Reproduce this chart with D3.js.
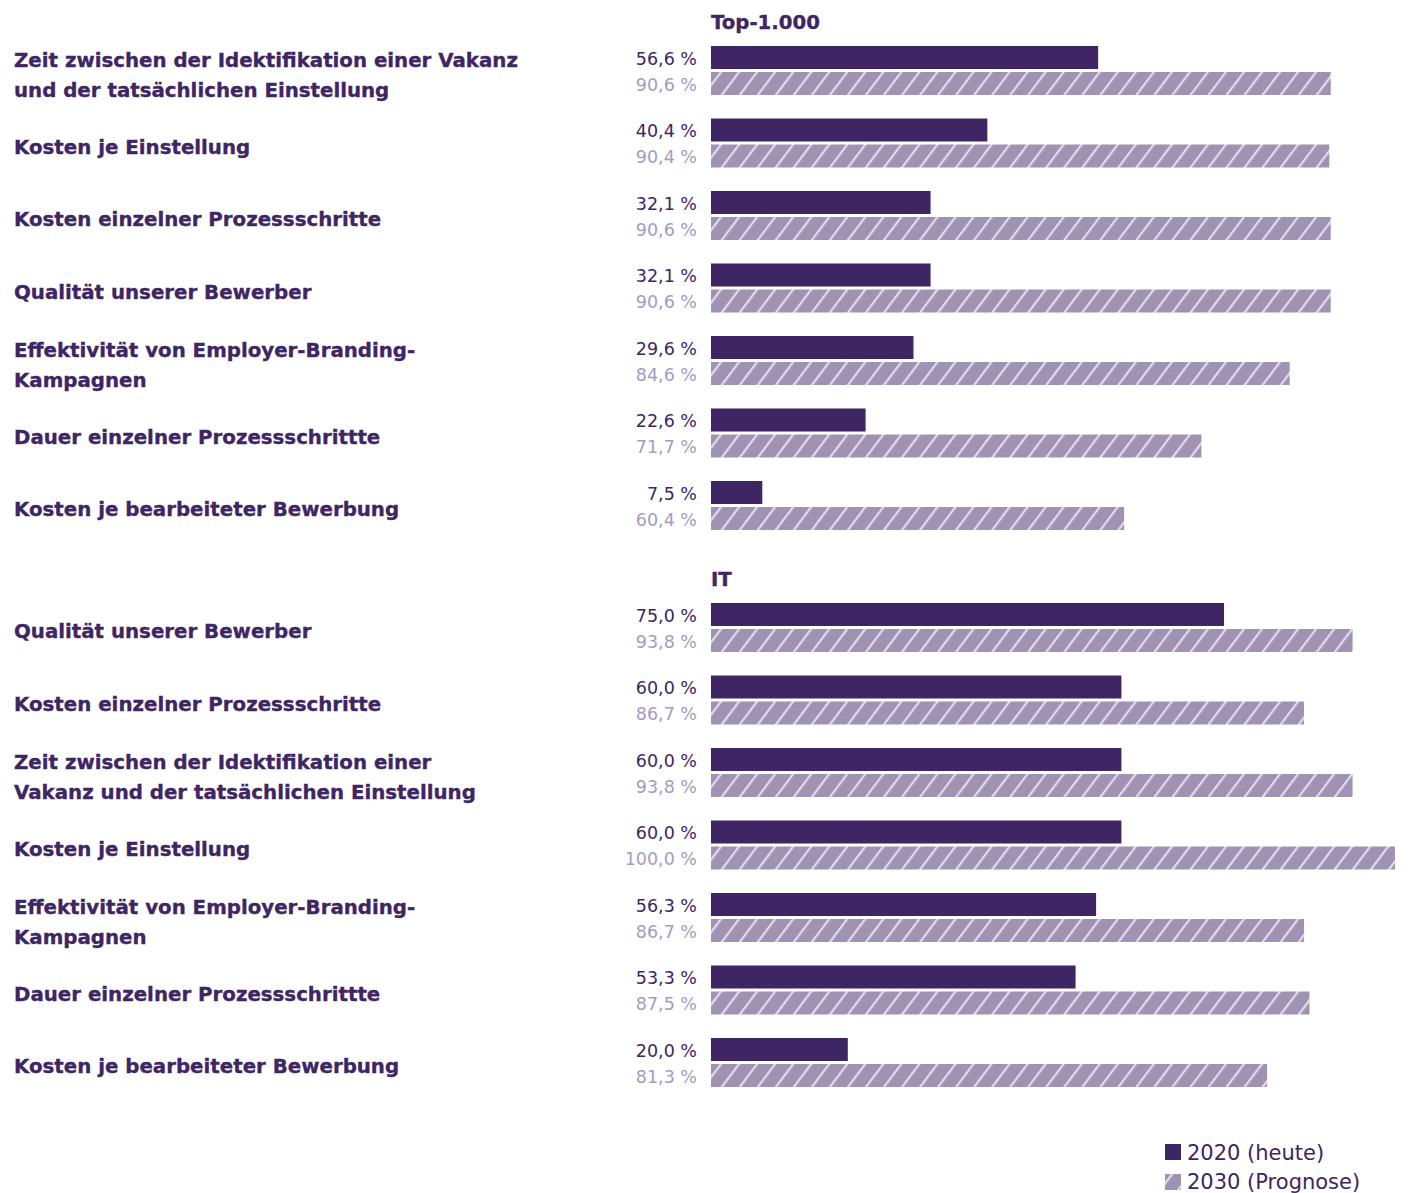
<!DOCTYPE html>
<html>
<head>
<meta charset="utf-8">
<script src="https://cdn.jsdelivr.net/npm/d3@7"></script>
<style>
  body { margin: 0; background: #fff; }
  svg { display: block; }
</style>
</head>
<body>
<script>
// two panels, same categories in different order
var topCategories = [
  "Zeit zwischen der Idektifikation einer Vakanz\nund der tatsächlichen Einstellung",
  "Kosten je Einstellung",
  "Kosten einzelner Prozessschritte",
  "Qualität unserer Bewerber",
  "Effektivität von Employer-Branding-\nKampagnen",
  "Dauer einzelner Prozessschrittte",
  "Kosten je bearbeiteter Bewerbung"
]
var top2020 = [56.6, 40.4, 32.1, 32.1, 29.6, 22.6, 7.5]
var top2030 = [90.6, 90.4, 90.6, 90.6, 84.6, 71.7, 60.4]

var itCategories = [
  "Qualität unserer Bewerber",
  "Kosten einzelner Prozessschritte",
  "Zeit zwischen der Idektifikation einer\nVakanz und der tatsächlichen Einstellung",
  "Kosten je Einstellung",
  "Effektivität von Employer-Branding-\nKampagnen",
  "Dauer einzelner Prozessschrittte",
  "Kosten je bearbeiteter Bewerbung"
]
var it2020 = [75.0, 60.0, 60.0, 60.0, 56.3, 53.3, 20.0]
var it2030 = [93.8, 86.7, 93.8, 100.0, 86.7, 87.5, 81.3]

var seriesNames = ["2020 (heute)", "2030 (Prognose)"]

var dark = "#3e2563"
var lightBar = "#9f92b3"
var lightText = "#a59bbf"
var font = "'DejaVu Sans', sans-serif"

var svg = d3.select("body")
  .append("svg")
  .attr("width", 1411)
  .attr("height", 1193)

// hatch for the 2030 bars
var defs = svg.append("defs")
var pat = defs.append("pattern")
  .attr("id", "hatch")
  .attr("patternUnits", "userSpaceOnUse")
  .attr("width", 14.4)
  .attr("height", 14.4)
  .attr("patternTransform", "rotate(37)")
pat.append("rect")
  .attr("width", 14.4).attr("height", 14.4)
  .attr("fill", lightBar)
pat.append("rect")
  .attr("x", 0).attr("width", 2.2).attr("height", 14.4)
  .attr("fill", "#e2dcea")

var xScale = d3.scaleLinear()
  .domain([0, 100])
  .range([711, 1395])

var fmt = function(v) { return d3.format(".1f")(v).replace(".", ",") + " %" }

var drawPanel = function(title, cats, v2020, v2030, y0)
{
  var yScale = d3.scaleBand()
    .domain(cats)
    .range([y0, y0 + 6 * 72.5 + 49])
    .paddingInner(1 - 49 / 72.5)
    .paddingOuter(0)

  var inner = d3.scaleBand()
    .domain(["2020", "2030"])
    .range([0, yScale.bandwidth()])
    .paddingInner(3 / 26)

  svg.append("text")
    .attr("x", xScale(0))
    .attr("y", y0 - 17)
    .attr("font-family", font)
    .attr("font-weight", 700)
    .attr("font-size", 19.7)
    .attr("fill", dark)
    .attr("stroke", dark)
    .attr("stroke-width", 0.35)
    .text(title)

  var rows = cats.map(function(c, i) { return {cat: c, a: v2020[i], b: v2030[i]} })

  var g = svg.append("g").selectAll("g")
    .data(rows)
    .enter()
    .append("g")
    .attr("transform", function(d) { return "translate(0," + yScale(d.cat) + ")" })

  g.append("rect")
    .attr("x", xScale(0))
    .attr("y", inner("2020"))
    .attr("width", function(d) { return xScale(d.a) - xScale(0) })
    .attr("height", inner.bandwidth())
    .attr("fill", dark)

  g.append("rect")
    .attr("x", xScale(0))
    .attr("y", inner("2030"))
    .attr("width", function(d) { return xScale(d.b) - xScale(0) })
    .attr("height", inner.bandwidth())
    .attr("fill", "url(#hatch)")

  g.append("text")
    .attr("x", 697)
    .attr("y", inner("2020") + inner.bandwidth() / 2)
    .attr("dy", "0.4em")
    .attr("text-anchor", "end")
    .attr("font-family", font)
    .attr("font-size", 17.5)
    .attr("fill", dark)
    .text(function(d) { return fmt(d.a) })

  g.append("text")
    .attr("x", 697)
    .attr("y", inner("2030") + inner.bandwidth() / 2)
    .attr("dy", "0.4em")
    .attr("text-anchor", "end")
    .attr("font-family", font)
    .attr("font-size", 17.5)
    .attr("fill", lightText)
    .text(function(d) { return fmt(d.b) })

  // category labels, one or two lines
  var lab = g.append("text")
    .attr("font-family", font)
    .attr("font-weight", 700)
    .attr("font-size", 19.8)
    .attr("fill", dark)
    .attr("stroke", dark)
    .attr("stroke-width", 0.35)

  lab.each(function(d)
  {
    var lines = d.cat.split("\n")
    var t = d3.select(this)
    lines.forEach(function(line, k)
    {
      var yy = lines.length == 1 ? 35 : 21 + k * 30
      t.append("tspan")
        .attr("x", 14)
        .attr("y", yy)
        .text(line)
    })
  })
}

drawPanel("Top-1.000", topCategories, top2020, top2030, 46)
drawPanel("IT", itCategories, it2020, it2030, 603)

// legend
var legend = svg.append("g")
legend.selectAll("rect")
  .data(seriesNames)
  .enter()
  .append("rect")
  .attr("x", 1165)
  .attr("y", function(d, i) { return 1144 + i * 30 })
  .attr("width", 16)
  .attr("height", 16)
  .attr("fill", function(d, i) { return i == 0 ? dark : "url(#hatch)" })

legend.selectAll("text")
  .data(seriesNames)
  .enter()
  .append("text")
  .attr("x", 1187)
  .attr("y", function(d, i) { return 1152 + i * 29.5 })
  .attr("dy", "0.36em")
  .attr("font-family", font)
  .attr("font-size", 21)
  .attr("fill", dark)
  .text(function(d) { return d })
</script>
</body>
</html>
